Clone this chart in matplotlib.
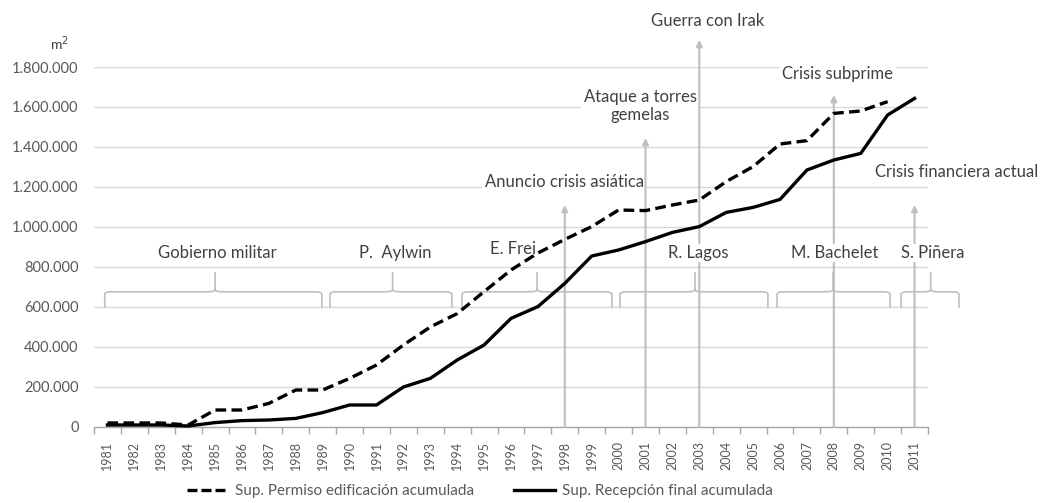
import matplotlib
matplotlib.use("Agg")
import matplotlib.pyplot as plt
from matplotlib.path import Path
from matplotlib.patches import PathPatch
from matplotlib.lines import Line2D

plt.rcParams['font.family'] = ['Lato', 'DejaVu Sans']

# ---------------- data ----------------
years = list(range(1981, 2012))
permiso = [20000, 20000, 20000, 10000, 85000, 85000, 118000, 185000, 185000, 243000,
           310000, 410000, 500000, 567000, 677000, 785000, 870000, 938000, 1002000, 1085000,
           1082000, 1110000, 1135000, 1227000, 1302000, 1415000, 1432000, 1568000, 1580000, 1627000]
recepcion = [10000, 10000, 10000, 5000, 22000, 32000, 35000, 43000, 72000, 110000,
             110000, 200000, 243000, 335000, 410000, 543000, 602000, 718000, 855000, 885000,
             927000, 973000, 1002000, 1073000, 1098000, 1138000, 1285000, 1335000, 1368000, 1560000,
             1643000]
yticks = [0, 200000, 400000, 600000, 800000, 1000000, 1200000, 1400000, 1600000, 1800000]
ytick_labels = ['0', '200.000', '400.000', '600.000', '800.000', '1.000.000',
                '1.200.000', '1.400.000', '1.600.000', '1.800.000']
series_names = ['Sup. Permiso edificación acumulada', 'Sup. Recepción final acumulada']

periods = ['Gobierno militar', 'P.  Aylwin', 'E. Frei', 'R. Lagos', 'M. Bachelet', 'S. Piñera']
events = ['Anuncio crisis asiática', 'Ataque a torres\ngemelas', 'Guerra con Irak',
          'Crisis subprime', 'Crisis financiera actual']
event_years = [1998, 2001, 2003, 2008, 2011]

# ---------------- layout (positions only) ----------------
# brackets: (left, center, right) in category index units
bracket_pos = [(-0.1, 4.0, 7.97), (8.27, 10.6, 12.8), (13.18, 15.97, 18.75),
               (19.05, 21.84, 24.55), (24.89, 26.97, 29.09), (29.5, 30.6, 31.65)]
period_text_pos = [(4.09, 870000), (10.69, 870000), (15.07, 890000), (21.95, 870000),
                   (27.04, 870000), (30.68, 870000)]
event_tip = [1110000, 1445000, 1935000, 1660000, 1110000]
event_text_pos = [(17.0, 1225000), (19.82, 1605000), (22.3, 2030000), (27.15, 1765000),
                  (31.58, 1275000)]

W, H = 1049, 503
fig = plt.figure(figsize=(W / 100, H / 100), dpi=100)
ax = fig.add_axes([94 / W, 76 / H, (928 - 94) / W, (427 - 67) / H])

x = list(range(len(years)))
grid_c = '#d9d9d9'
ann_c = '#bfbfbf'
txt_c = '#404040'

for v in yticks[1:]:
    ax.axhline(v, color=grid_c, lw=1.0, zorder=0)

# brackets
for (l, c, r) in bracket_pos:
    y0, y1, y2 = 595000, 676000, 776000
    rad_x, rad_y = 0.25, 12000
    verts = [(l, y0), (l, y1 - rad_y), (l, y1), (l + rad_x, y1),
             (c - rad_x, y1), (c, y1), (c, y1 + rad_y), (c, y2),
             (c, y1 + rad_y), (c, y1), (c + rad_x, y1),
             (r - rad_x, y1), (r, y1), (r, y1 - rad_y), (r, y0)]
    codes = [Path.MOVETO, Path.LINETO, Path.CURVE3, Path.CURVE3,
             Path.LINETO, Path.CURVE3, Path.CURVE3, Path.LINETO,
             Path.MOVETO, Path.CURVE3, Path.CURVE3,
             Path.LINETO, Path.CURVE3, Path.CURVE3, Path.LINETO]
    ax.add_patch(PathPatch(Path(verts, codes), fill=False, edgecolor=ann_c, lw=1.2,
                           zorder=2, clip_on=False))

# event labels (white boxes hide gridlines, arrows drawn above)
for name, (tx, ty) in zip(events, event_text_pos):
    ax.text(tx, ty, name, ha='center', va='center', fontsize=12, color=txt_c,
            linespacing=1.2, zorder=2.5, clip_on=False,
            bbox=dict(facecolor='white', edgecolor='none', pad=2))

# event arrows
for ey, tip in zip(event_years, event_tip):
    xi = years.index(ey)
    ax.annotate('', xy=(xi, tip), xytext=(xi, 0),
                arrowprops=dict(arrowstyle='-|>', color=ann_c, lw=1.5,
                                mutation_scale=9, shrinkA=0, shrinkB=0),
                zorder=3, annotation_clip=False)

# period labels
for name, (px, py) in zip(periods, period_text_pos):
    ax.text(px, py, name, ha='center', va='center', fontsize=12, color=txt_c, zorder=4,
            bbox=dict(facecolor='white', edgecolor='none', pad=1.0), clip_on=False)

# series
dash = (0, (3.2, 1.6))
ax.plot(x[:len(permiso)], permiso, color='black', lw=2.4, ls=dash, zorder=5,
        label=series_names[0], clip_on=False)
ax.plot(x[:len(recepcion)], recepcion, color='black', lw=2.4, zorder=5,
        label=series_names[1], clip_on=False)

ax.set_xlim(-0.5, len(years) - 0.5)
ax.set_ylim(0, 1800000)
ax.set_yticks(yticks)
ax.set_yticklabels(ytick_labels, fontsize=10.5, color='#595959')
ax.tick_params(axis='y', length=0, pad=11)
ax.set_xticks(x)
ax.set_xticklabels([str(yv) for yv in years], rotation=90, fontsize=9, color='#595959')
ax.set_xticks([i - 0.5 for i in range(len(years) + 1)], minor=True)
ax.tick_params(axis='x', which='major', length=0, pad=10)
ax.tick_params(axis='x', which='minor', length=5, color='#a6a6a6', width=1)

for s in ['top', 'right', 'left']:
    ax.spines[s].set_visible(False)
ax.spines['bottom'].set_color('#a6a6a6')
ax.spines['bottom'].set_linewidth(1)

fig.text(50 / W, 1 - 44 / H, 'm$^2$', fontsize=10, color=txt_c, ha='left', va='center')

handles = [Line2D([], [], color='black', lw=2.4, ls=(0, (3.0, 1.2))),
           Line2D([], [], color='black', lw=2.4)]
fig.legend(handles, series_names, loc='center', bbox_to_anchor=(480 / W, 1 - 491 / H),
           ncol=2, frameon=False, fontsize=11, handlelength=2.7, columnspacing=2.6,
           handletextpad=0.45, labelcolor='#595959')

fig.savefig('out.png', dpi=100, facecolor='white')
